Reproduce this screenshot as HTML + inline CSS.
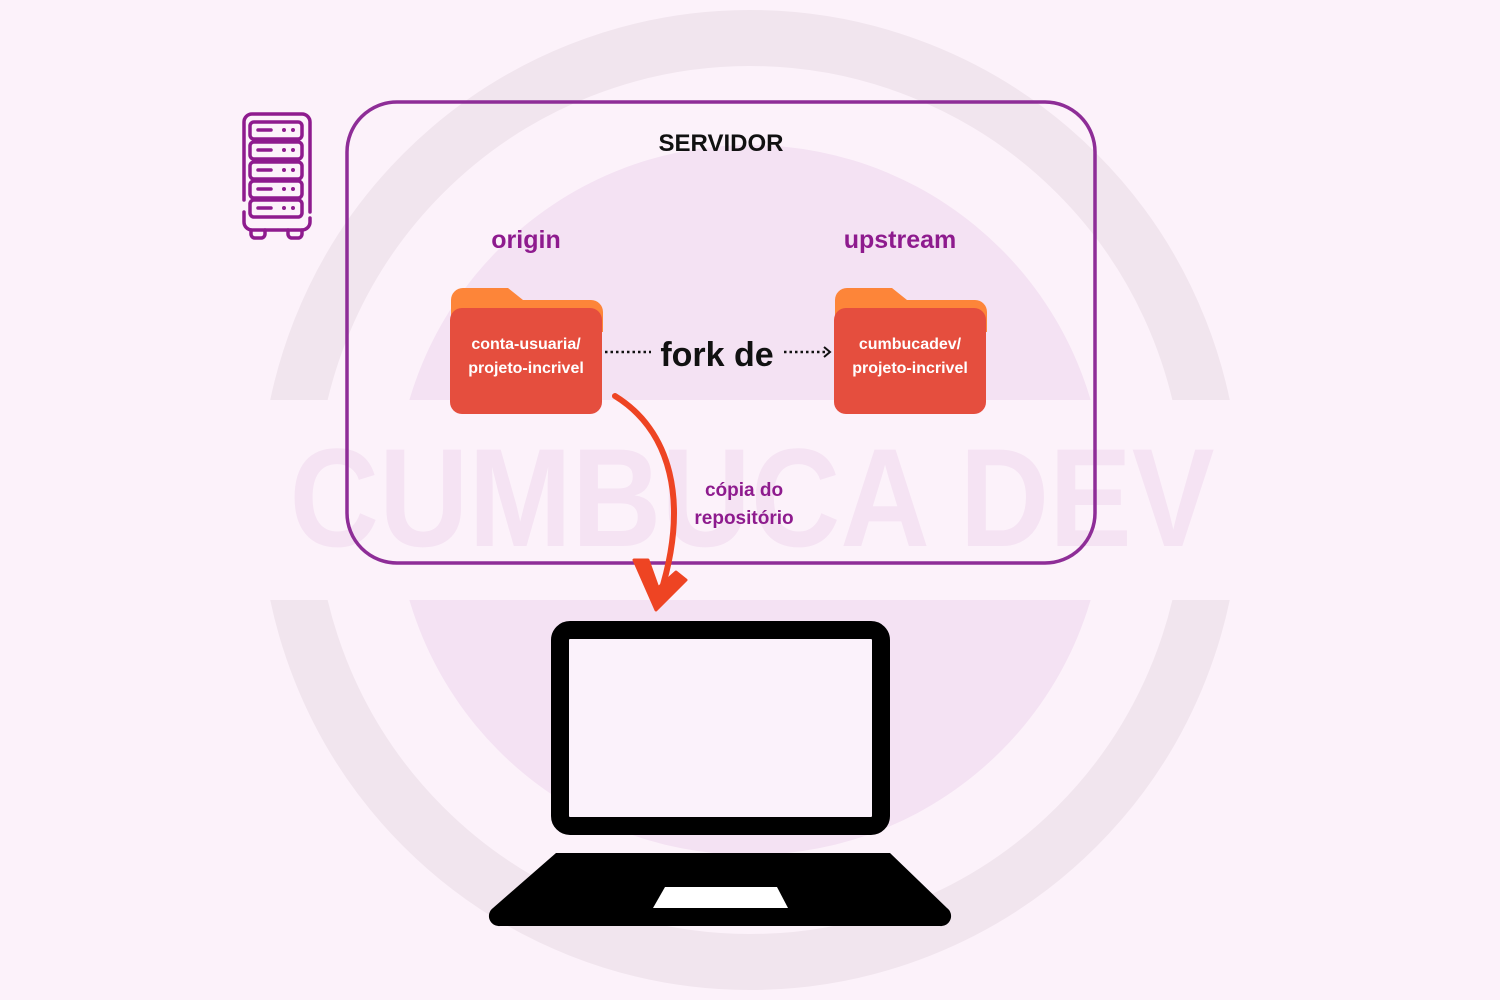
<!DOCTYPE html>
<html><head><meta charset="utf-8"><style>
html,body{margin:0;padding:0;background:#fcf2fa;}
svg{display:block}
text{font-family:"Liberation Sans","DejaVu Sans",sans-serif;font-weight:bold}
</style></head><body>
<svg width="1500" height="1000" viewBox="0 0 1500 1000" xmlns="http://www.w3.org/2000/svg">
<defs>
<clipPath id="cut"><rect x="0" y="0" width="1500" height="400"/><rect x="0" y="600" width="1500" height="400"/></clipPath>
</defs>
<rect width="1500" height="1000" fill="#fcf2fa"/>
<g clip-path="url(#cut)">
<circle cx="750" cy="500" r="462" fill="none" stroke="#f1e5ee" stroke-width="56"/>
<circle cx="750" cy="500" r="355" fill="#f4e2f3"/>
</g>
<text x="752" y="546" text-anchor="middle" font-size="140" fill="#f5e3f3" font-family="Liberation Mono" textLength="925" lengthAdjust="spacingAndGlyphs">CUMBUCA DEV</text>
<!-- server box -->
<rect x="347" y="102" width="748" height="461" rx="50" fill="none" stroke="#8e2d97" stroke-width="3.5"/>
<!-- server icon -->
<g fill="none" stroke="#8e1b8e" stroke-width="3.5" stroke-linecap="round">
<path d="M244 200 V122 a8 8 0 0 1 8 -8 h50 a8 8 0 0 1 8 8 V212 M244 212 v10 a8 8 0 0 0 8 8 h50 a8 8 0 0 0 8 -8 v-4"/>
<rect x="250" y="122" width="52" height="17" rx="4"/>
<rect x="250" y="142" width="52" height="17" rx="4"/>
<rect x="250" y="162" width="52" height="17" rx="4"/>
<rect x="250" y="181" width="52" height="17" rx="4"/>
<rect x="250" y="200" width="52" height="17" rx="4"/>
<path d="M251 230 v4 a4 4 0 0 0 4 4 h6 a4 4 0 0 0 4 -4 v-4 M288 230 v4 a4 4 0 0 0 4 4 h6 a4 4 0 0 0 4 -4 v-4"/>
<path d="M258 130h13M258 150h13M258 170h13M258 189h13M258 208h13"/>
</g>
<g fill="#8e1b8e"><circle cx="284" cy="130" r="2"/><circle cx="293" cy="130" r="2"/><circle cx="284" cy="150" r="2"/><circle cx="293" cy="150" r="2"/><circle cx="284" cy="170" r="2"/><circle cx="293" cy="170" r="2"/><circle cx="284" cy="189" r="2"/><circle cx="293" cy="189" r="2"/><circle cx="284" cy="208" r="2"/><circle cx="293" cy="208" r="2"/></g>
<text x="721" y="151" text-anchor="middle" font-size="24" fill="#111">SERVIDOR</text>
<text x="526" y="248" text-anchor="middle" font-size="25" fill="#8e1b8e">origin</text>
<text x="900" y="248" text-anchor="middle" font-size="25" fill="#8e1b8e">upstream</text>
<!-- folders -->
<g>
<path d="M451 300 a12 12 0 0 1 12 -12 h45 l15 12 h68 a12 12 0 0 1 12 12 v20 h-152z" fill="#fd8539"/>
<rect x="450" y="308" width="152" height="106" rx="12" fill="#e54e3e"/>
<text x="526" y="349" text-anchor="middle" font-size="16" fill="#fff">conta-usuaria/</text>
<text x="526" y="373" text-anchor="middle" font-size="16" fill="#fff">projeto-incrivel</text>
</g>
<g>
<path d="M835 300 a12 12 0 0 1 12 -12 h45 l15 12 h68 a12 12 0 0 1 12 12 v20 h-152z" fill="#fd8539"/>
<rect x="834" y="308" width="152" height="106" rx="12" fill="#e54e3e"/>
<text x="910" y="349" text-anchor="middle" font-size="16" fill="#fff">cumbucadev/</text>
<text x="910" y="373" text-anchor="middle" font-size="16" fill="#fff">projeto-incrivel</text>
</g>
<line x1="605" y1="352" x2="651" y2="352" stroke="#111" stroke-width="2.5" stroke-dasharray="2.5 3"/>
<line x1="784" y1="352" x2="826" y2="352" stroke="#111" stroke-width="2.5" stroke-dasharray="2.5 3"/>
<path d="M824 347 l6 5 -6 5" fill="none" stroke="#111" stroke-width="2"/>
<text x="717" y="366" text-anchor="middle" font-size="34" fill="#111">fork de</text>
<!-- curved arrow -->
<path d="M615 396 C670 430 690 500 660 595" fill="none" stroke="#ee4423" stroke-width="6" stroke-linecap="round"/>
<path d="M634 560 L648 560 L658 588 L676 572 L686 580 L656 610 Z" fill="#ee4423" stroke="#ee4423" stroke-width="3" stroke-linejoin="round"/>
<text x="744" y="496" text-anchor="middle" font-size="19" fill="#8e1b8e">cópia do</text>
<text x="744" y="524" text-anchor="middle" font-size="19" fill="#8e1b8e">repositório</text>
<!-- laptop -->
<rect x="560" y="630" width="321" height="196" rx="10" fill="#fbf2fb" stroke="#000" stroke-width="18"/>
<path d="M556 853 H890 L947 908 a10 10 0 0 1 -7 18 H500 a10 10 0 0 1 -7 -18 Z" fill="#000"/>
<path d="M665 887 H777 L788 908 H653 Z" fill="#fff"/>
</svg>
</body></html>
